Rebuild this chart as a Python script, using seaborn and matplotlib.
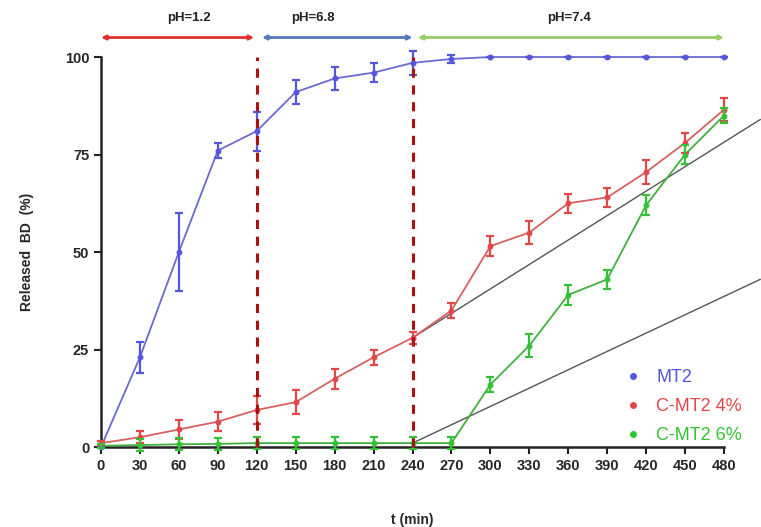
import matplotlib
matplotlib.use("Agg")
import matplotlib.pyplot as plt
import seaborn as sns
import pandas as pd
import numpy as np

t = [0, 30, 60, 90, 120, 150, 180, 210, 240, 270, 300, 330, 360, 390, 420, 450, 480]
mt2 = [0, 23, 50, 76, 81, 91, 94.5, 96, 98.5, 99.5, 100, 100, 100, 100, 100, 100, 100]
mt2_err = [0, 4, 10, 2, 5, 3, 3, 2.5, 3, 1, 0, 0, 0, 0, 0, 0, 0]
cmt4 = [1, 2.5, 4.5, 6.5, 9.5, 11.5, 17.5, 23, 28, 35, 51.5, 55, 62.5, 64, 70.5, 78, 86.5]
cmt4_err = [0.5, 1.5, 2.5, 2.5, 3.5, 3, 2.5, 2, 1.5, 2, 2.5, 3, 2.5, 2.5, 3, 2.5, 3]
cmt6 = [0.3, 0.5, 0.7, 0.8, 1, 1, 1, 1, 1, 1, 16, 26, 39, 43, 62, 75, 85]
cmt6_err = [0.5, 1.5, 1.5, 1.5, 1.5, 1.5, 1.5, 1.5, 1.5, 1.5, 2, 3, 2.5, 2.5, 2.5, 2.5, 2]
series_names = ["MT2", "C-MT2 4%", "C-MT2 6%"]
colors = ["#5555dd", "#e04848", "#33c233"]
line_colors = ["#6a6ad0", "#d86060", "#40b040"]
# reference (tangent) lines: (x0, y0) -> (x1, y1)
ref_lines = [((240, 28), (508, 84)), ((240, 1), (508, 43))]
phases = [("pH=1.2", 0, 118, "#e03030"), ("pH=6.8", 124, 240, "#5577bb"), ("pH=7.4", 244, 480, "#99cc66")]
phase_label_x = [68, 163, 361]
vlines = [120, 240]

plt.rcParams['font.family'] = ['Liberation Sans', 'DejaVu Sans']
sns.set_style("ticks")
plt.rcParams['font.family'] = ['Liberation Sans', 'DejaVu Sans']

fig = plt.figure(figsize=(7.61, 5.27), dpi=100)
ax = fig.add_axes([0.1327, 0.1518, 0.8187, 0.74])

df = pd.DataFrame({
    "t": t * 3,
    "val": mt2 + cmt4 + cmt6,
    "series": [series_names[0]] * len(t) + [series_names[1]] * len(t) + [series_names[2]] * len(t),
})
errs = [mt2_err, cmt4_err, cmt6_err]
vals = [mt2, cmt4, cmt6]

for (p0, p1) in ref_lines:
    ax.plot([p0[0], p1[0]], [p0[1], p1[1]], color="#555555", lw=1.0, clip_on=False, zorder=2)

for i, name in enumerate(series_names):
    sub = df[df.series == name]
    sns.lineplot(data=sub, x="t", y="val", ax=ax, color=line_colors[i], lw=1.3,
                 marker="o", markersize=3.5, markerfacecolor=colors[i], markeredgecolor=colors[i],
                 label=None, legend=False, zorder=3, clip_on=False)
    ax.errorbar(t, vals[i], yerr=errs[i], fmt="none", ecolor=colors[i], elinewidth=1.6,
                capsize=3, capthick=1.6, zorder=4, clip_on=False)

for v in vlines:
    ax.plot([v, v], [0, 100], color="#aa1111", lw=2.2, ls=(0, (3, 2.5)), zorder=5, clip_on=False)

for (lab, x0, x1, c), lx in zip(phases, phase_label_x):
    ax.annotate("", xy=(x1, 105), xytext=(x0, 105), xycoords="data", textcoords="data",
                arrowprops=dict(arrowstyle="<|-|>", color=c, lw=2.0, mutation_scale=6,
                                shrinkA=0, shrinkB=0), annotation_clip=False)
    ax.text(lx, 110, lab, ha="center", va="center", fontsize=9.5, fontweight="bold", color="#222222",
            clip_on=False)

ax.set_xlim(0, 480)
ax.set_ylim(0, 100)
ax.set_xticks(t)
ax.set_yticks([0, 25, 50, 75, 100])
ax.tick_params(axis="both", labelsize=10.5, width=1.5, length=5, color="#222222")
for lbl in ax.get_xticklabels() + ax.get_yticklabels():
    lbl.set_fontweight("bold")
for s in ["left", "bottom"]:
    ax.spines[s].set_linewidth(1.8)
    ax.spines[s].set_color("#222222")
sns.despine(ax=ax)
ax.set_xlabel("t (min)", fontsize=10, fontweight="bold", labelpad=29)
ax.set_ylabel("Released  BD  (%)", fontsize=10, fontweight="bold", labelpad=22)

# legend
from matplotlib.lines import Line2D
handles = [Line2D([], [], ls="none", marker="o", markersize=4, color=c) for c in colors]
leg = ax.legend(handles, series_names, loc="lower left", bbox_to_anchor=(0.82, -0.012),
                frameon=False, fontsize=13, handletextpad=0.55, labelspacing=0.68,
                borderaxespad=0, handlelength=1.5)
for txt, c in zip(leg.get_texts(), colors):
    txt.set_color(c)

fig.savefig("out.png", dpi=100)
